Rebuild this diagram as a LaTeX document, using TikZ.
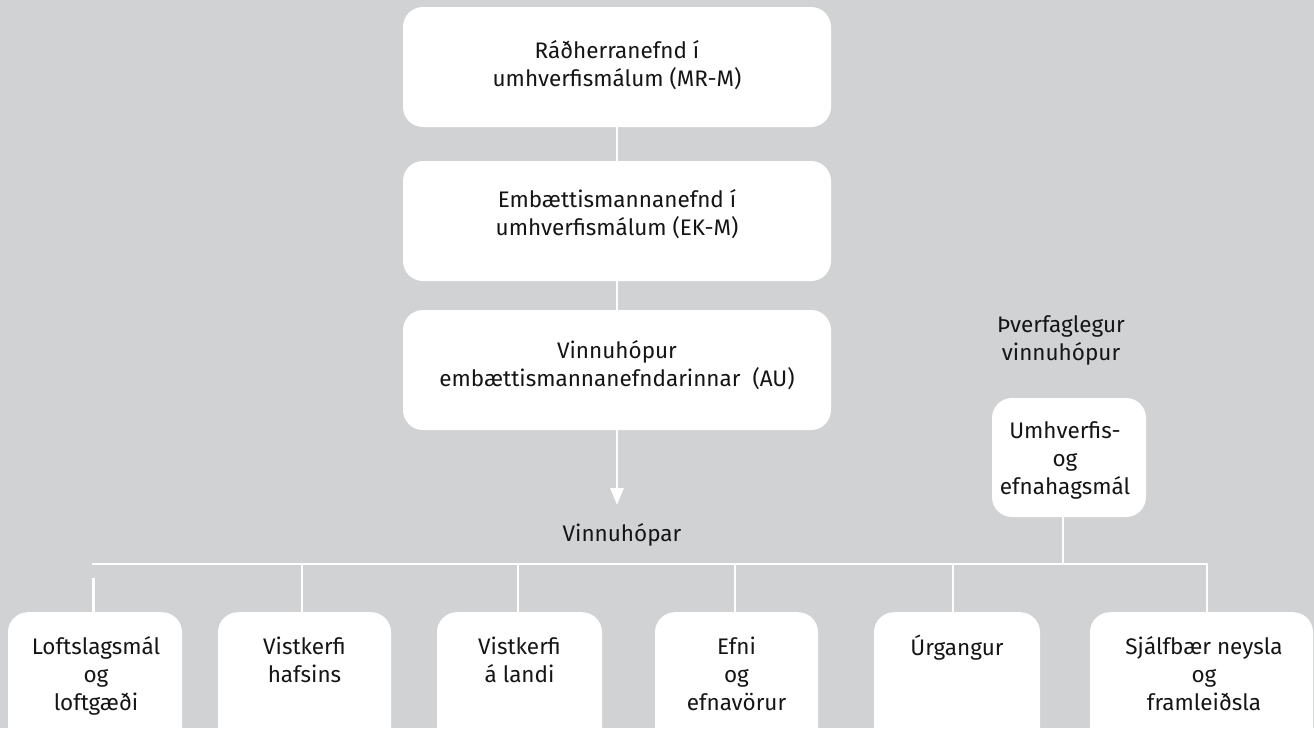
\documentclass[tikz,border=0pt]{standalone}
\usepackage{fontspec}
\setmainfont{Fira Sans}
\usetikzlibrary{arrows.meta}
\definecolor{bg}{HTML}{D1D2D4}
\definecolor{ink}{HTML}{151515}
\begin{document}
\begin{tikzpicture}[x=1pt,y=-1pt,
  panel/.style 2 args={fill=white,draw=none,rounded corners=20pt,inner sep=0pt,minimum width=#1,minimum height=#2},
  txt/.style={font=\fontsize{22.5}{28}\selectfont,text=ink,align=center,inner sep=0pt},
  link/.style={draw=white,line width=2.9pt}]
\fill[bg] (0,0) rectangle (1314,728);
\useasboundingbox (0,0) rectangle (1314,728);
\clip (0,0) rectangle (1314,728);
% top column
\node[panel={428pt}{120pt}] (mrm) at (617,67) {};
\node[txt] (mrmt) at (617,67) {\strut Ráðherranefnd í\\umhverfismálum (MR-M)\strut};
\node[panel={428pt}{120pt}] (ekm) at (617,221) {};
\node[txt] (ekmt) at (617,216) {\strut Embættismannanefnd í\\umhverfismálum (EK-M)\strut};
\node[panel={428pt}{120pt}] (au) at (617,370) {};
\node[txt] (aut) at (617,367) {\strut Vinnuhópur\\embættismannanefndarinnar\ \ (AU)\strut};
\draw[link] (mrm.south) -- (ekm.north);
\draw[link] (ekm.south) -- (au.north);
\coordinate (tip) at (617,505);
\draw[link,-{Triangle[width=13pt,length=17pt]}] (au.south) -- (tip);
\node[txt] (vh) at (622,535) {Vinnuhópar};
% cross-disciplinary group
\node[txt] (tv) at (1061,341) {\strut Þverfaglegur\\vinnuhópur\strut};
\node[panel={154pt}{119pt}] (ue) at (1069,457.5) {};
\node[txt] (uet) at (1065,461) {\strut Umhverfis-\\og\\efnahagsmál\strut};
% bottom row
\node[panel={174pt}{160pt},anchor=north] (w1) at (95,612) {};
\node[panel={173pt}{160pt},anchor=north] (w2) at (304.5,612) {};
\node[panel={165pt}{160pt},anchor=north] (w3) at (519.5,612) {};
\node[panel={163pt}{160pt},anchor=north] (w4) at (736.5,612) {};
\node[panel={166pt}{160pt},anchor=north] (w5) at (957,612) {};
\node[panel={223pt}{160pt},anchor=north] (w6) at (1201.5,612) {};
\node[txt,anchor=north] (w1t) at (96,635) {\strut Loftslagsmál\\og\\loftgæði};
\node[txt,anchor=north] (w2t) at (304.5,635) {\strut Vistkerfi\\hafsins};
\node[txt,anchor=north] (w3t) at (519.5,635) {\strut Vistkerfi\\á landi};
\node[txt,anchor=north] (w4t) at (736.5,635) {\strut Efni\\og\\efnavörur};
\node[txt,anchor=north] (w5t) at (957,635) {\strut Úrgangur};
\node[txt,anchor=north] (w6t) at (1204,635) {\strut Sjálfbær neysla\\og\\framleiðsla};
% connectors
\coordinate (hl) at (92.3,564);
\coordinate (hr) at (1207,564);
\coordinate (j2) at (302,564);
\coordinate (j3) at (518,564);
\coordinate (j4) at (735,564);
\coordinate (j5) at (953,564);
\coordinate (j6) at (1063,564);
\coordinate (s1) at (93.7,578);
\draw[link] (hl) -- (hr) -- (hr |- w6.north);
\draw[link] (j2) -- (j2 |- w2.north);
\draw[link] (j3) -- (j3 |- w3.north);
\draw[link] (j4) -- (j4 |- w4.north);
\draw[link] (j5) -- (j5 |- w5.north);
\draw[link] (j6 |- ue.south) -- (j6);
\draw[link] (s1) -- (s1 |- w1.north);
\end{tikzpicture}
\end{document}
